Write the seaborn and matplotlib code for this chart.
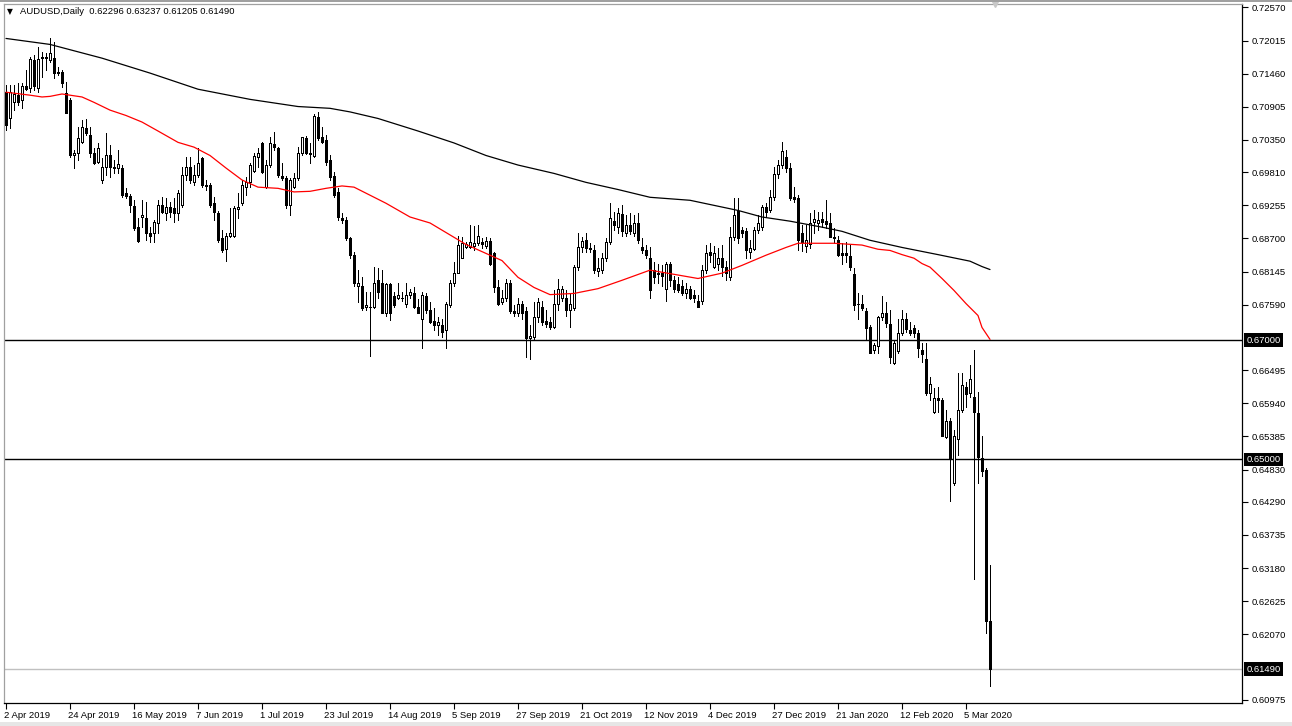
import matplotlib
matplotlib.use("Agg")
import matplotlib.pyplot as plt
import matplotlib.transforms as mtransforms
import seaborn as sns
import pandas as pd
import numpy as np

# AUDUSD daily bars, 2 Apr 2019 .. 13 Mar 2020 (one bar per trading day)
opens = [
    0.7115, 0.7071, 0.7098, 0.7110, 0.7102, 0.7125, 0.7122, 0.7169, 0.7122, 0.7174,
    0.7172, 0.7169, 0.7172, 0.7148, 0.7148, 0.7113, 0.7102, 0.7009, 0.7013, 0.7031,
    0.7055, 0.7043, 0.7013, 0.6998, 0.6968, 0.6989, 0.7009, 0.6989, 0.6988, 0.6988,
    0.6946, 0.6941, 0.6924, 0.6889, 0.6906, 0.6904, 0.6880, 0.6879, 0.6896, 0.6926,
    0.6912, 0.6922, 0.6921, 0.6912, 0.6926, 0.6976, 0.6989, 0.6964, 0.6976, 0.7004,
    0.6959, 0.6959, 0.6929, 0.6912, 0.6870, 0.6852, 0.6874, 0.6875, 0.6919, 0.6929,
    0.6956, 0.6964, 0.6983, 0.7006, 0.7030, 0.6956, 0.6993, 0.7028, 0.7021, 0.6974,
    0.6971, 0.6926, 0.6956, 0.6971, 0.7013, 0.7038, 0.7011, 0.7008, 0.7073, 0.7040,
    0.7035, 0.7001, 0.6974, 0.6948, 0.6904, 0.6901, 0.6870, 0.6842, 0.6790, 0.6791,
    0.6755, 0.6755, 0.6755, 0.6800, 0.6795, 0.6745, 0.6793, 0.6773, 0.6771, 0.6771,
    0.6761, 0.6775, 0.6778, 0.6756, 0.6736, 0.6773, 0.6750, 0.6731, 0.6725, 0.6725,
    0.6716, 0.6758, 0.6795, 0.6813, 0.6838, 0.6855, 0.6855, 0.6857, 0.6862, 0.6864,
    0.6857, 0.6865, 0.6845, 0.6788, 0.6764, 0.6771, 0.6796, 0.6748, 0.6746, 0.6760,
    0.6748, 0.6703, 0.6705, 0.6738, 0.6755, 0.6731, 0.6730, 0.6721, 0.6760, 0.6771,
    0.6771, 0.6750, 0.6753, 0.6822, 0.6855, 0.6867, 0.6854, 0.6850, 0.6815, 0.6817,
    0.6838, 0.6864, 0.6899, 0.6889, 0.6911, 0.6880, 0.6892, 0.6880, 0.6896, 0.6855,
    0.6850, 0.6838, 0.6817, 0.6812, 0.6813, 0.6785, 0.6827, 0.6800, 0.6793, 0.6791,
    0.6778, 0.6785, 0.6775, 0.6766, 0.6766, 0.6818, 0.6847, 0.6822, 0.6828, 0.6837,
    0.6822, 0.6805, 0.6872, 0.6916, 0.6884, 0.6882, 0.6847, 0.6852, 0.6884, 0.6889,
    0.6922, 0.6917, 0.6939, 0.6978, 0.6993, 0.7006, 0.6988, 0.6939, 0.6937, 0.6880,
    0.6857, 0.6860, 0.6897, 0.6896, 0.6902, 0.6899, 0.6896, 0.6872, 0.6867, 0.6845,
    0.6845, 0.6840, 0.6810, 0.6761, 0.6761, 0.6748, 0.6721, 0.6683, 0.6690, 0.6738,
    0.6745, 0.6726, 0.6661, 0.6681, 0.6711, 0.6736, 0.6716, 0.6720, 0.6711, 0.6683,
    0.6668, 0.6611, 0.6579, 0.6603, 0.6599, 0.6537, 0.6565, 0.6460, 0.6534, 0.6582,
    0.6622, 0.6611, 0.6604, 0.6577, 0.6502, 0.6482, 0.62296,
]
highs = [
    0.7127, 0.7127, 0.7127, 0.7130, 0.7130, 0.7152, 0.7174, 0.7177, 0.7190, 0.7182,
    0.7180, 0.7205, 0.7199, 0.7157, 0.7152, 0.7132, 0.7105, 0.7018, 0.7056, 0.7068,
    0.7070, 0.7056, 0.7021, 0.7030, 0.7004, 0.7046, 0.7026, 0.7001, 0.7018, 0.6993,
    0.6954, 0.6944, 0.6934, 0.6904, 0.6934, 0.6931, 0.6889, 0.6901, 0.6934, 0.6939,
    0.6937, 0.6931, 0.6937, 0.6951, 0.6989, 0.7006, 0.7006, 0.6993, 0.7021, 0.7006,
    0.6968, 0.6963, 0.6939, 0.6916, 0.6884, 0.6879, 0.6921, 0.6924, 0.6946, 0.6968,
    0.6973, 0.6996, 0.7013, 0.7021, 0.7031, 0.7001, 0.7040, 0.7048, 0.7024, 0.6996,
    0.6974, 0.6971, 0.6979, 0.7023, 0.7040, 0.7041, 0.7030, 0.7078, 0.7082, 0.7056,
    0.7043, 0.7009, 0.6981, 0.6954, 0.6912, 0.6906, 0.6872, 0.6847, 0.6817, 0.6805,
    0.6780, 0.6780, 0.6822, 0.6820, 0.6817, 0.6796, 0.6795, 0.6780, 0.6795, 0.6780,
    0.6796, 0.6786, 0.6788, 0.6768, 0.6780, 0.6778, 0.6763, 0.6753, 0.6738, 0.6736,
    0.6763, 0.6800, 0.6830, 0.6875, 0.6872, 0.6864, 0.6892, 0.6891, 0.6892, 0.6870,
    0.6872, 0.6870, 0.6847, 0.6800, 0.6783, 0.6803, 0.6800, 0.6758, 0.6770, 0.6766,
    0.6756, 0.6725, 0.6764, 0.6770, 0.6766, 0.6750, 0.6738, 0.6783, 0.6803, 0.6791,
    0.6783, 0.6778, 0.6825, 0.6880, 0.6872, 0.6879, 0.6862, 0.6859, 0.6837, 0.6845,
    0.6870, 0.6929, 0.6914, 0.6921, 0.6926, 0.6909, 0.6912, 0.6909, 0.6912, 0.6870,
    0.6859, 0.6855, 0.6830, 0.6828, 0.6825, 0.6830, 0.6830, 0.6808, 0.6805, 0.6800,
    0.6795, 0.6791, 0.6783, 0.6775, 0.6825, 0.6859, 0.6862, 0.6857, 0.6854, 0.6859,
    0.6833, 0.6889, 0.6937, 0.6937, 0.6889, 0.6887, 0.6867, 0.6889, 0.6909, 0.6926,
    0.6929, 0.6951, 0.6989, 0.7001, 0.7031, 0.7018, 0.6996, 0.6956, 0.6943, 0.6892,
    0.6892, 0.6912, 0.6917, 0.6914, 0.6914, 0.6934, 0.6912, 0.6887, 0.6875, 0.6862,
    0.6864, 0.6859, 0.6820, 0.6778, 0.6775, 0.6753, 0.6725, 0.6695, 0.6741, 0.6773,
    0.6763, 0.6750, 0.6700, 0.6736, 0.6750, 0.6745, 0.6730, 0.6725, 0.6716, 0.6695,
    0.6695, 0.6638, 0.6619, 0.6622, 0.6603, 0.6582, 0.6569, 0.6549, 0.6644, 0.6644,
    0.6629, 0.6658, 0.6684, 0.6613, 0.6539, 0.6485, 0.63237,
]
lows = [
    0.7051, 0.7055, 0.7085, 0.7093, 0.7088, 0.7118, 0.7115, 0.7118, 0.7115, 0.7140,
    0.7152, 0.7165, 0.7138, 0.7143, 0.7124, 0.7080, 0.7006, 0.6988, 0.7001, 0.7030,
    0.7043, 0.7006, 0.6994, 0.6996, 0.6963, 0.6976, 0.6973, 0.6979, 0.6979, 0.6939,
    0.6937, 0.6914, 0.6884, 0.6864, 0.6889, 0.6867, 0.6864, 0.6864, 0.6879, 0.6912,
    0.6901, 0.6906, 0.6897, 0.6901, 0.6922, 0.6968, 0.6963, 0.6959, 0.6973, 0.6956,
    0.6951, 0.6922, 0.6901, 0.6864, 0.6847, 0.6832, 0.6872, 0.6872, 0.6904, 0.6926,
    0.6943, 0.6956, 0.6981, 0.6989, 0.6979, 0.6954, 0.6989, 0.7018, 0.6973, 0.6968,
    0.6921, 0.6909, 0.6954, 0.6968, 0.7009, 0.7011, 0.6996, 0.7006, 0.7035, 0.7030,
    0.6993, 0.6968, 0.6939, 0.6901, 0.6896, 0.6867, 0.6838, 0.6791, 0.6763, 0.6750,
    0.6750, 0.6674, 0.6753, 0.6771, 0.6745, 0.6741, 0.6733, 0.6755, 0.6768, 0.6766,
    0.6755, 0.6771, 0.6753, 0.6745, 0.6686, 0.6746, 0.6728, 0.6716, 0.6708, 0.6705,
    0.6686, 0.6755, 0.6791, 0.6812, 0.6837, 0.6854, 0.6854, 0.6850, 0.6859, 0.6854,
    0.6854, 0.6825, 0.6780, 0.6758, 0.6761, 0.6766, 0.6745, 0.6740, 0.6741, 0.6736,
    0.6671, 0.6669, 0.6701, 0.6730, 0.6725, 0.6721, 0.6718, 0.6720, 0.6750, 0.6766,
    0.6741, 0.6721, 0.6750, 0.6817, 0.6847, 0.6847, 0.6847, 0.6813, 0.6808, 0.6813,
    0.6833, 0.6860, 0.6884, 0.6879, 0.6875, 0.6875, 0.6877, 0.6875, 0.6862, 0.6845,
    0.6837, 0.6770, 0.6795, 0.6795, 0.6791, 0.6766, 0.6791, 0.6780, 0.6780, 0.6775,
    0.6771, 0.6768, 0.6763, 0.6755, 0.6761, 0.6813, 0.6830, 0.6820, 0.6817, 0.6808,
    0.6800, 0.6800, 0.6867, 0.6862, 0.6872, 0.6838, 0.6837, 0.6850, 0.6880, 0.6884,
    0.6906, 0.6914, 0.6934, 0.6971, 0.6988, 0.6981, 0.6934, 0.6931, 0.6850, 0.6849,
    0.6847, 0.6854, 0.6880, 0.6884, 0.6889, 0.6887, 0.6872, 0.6862, 0.6840, 0.6828,
    0.6830, 0.6817, 0.6750, 0.6736, 0.6750, 0.6700, 0.6678, 0.6678, 0.6678, 0.6733,
    0.6721, 0.6661, 0.6659, 0.6679, 0.6708, 0.6713, 0.6708, 0.6705, 0.6671, 0.6663,
    0.6608, 0.6599, 0.6577, 0.6579, 0.6539, 0.6536, 0.6431, 0.6458, 0.6507, 0.6579,
    0.6587, 0.6604, 0.6299, 0.6460, 0.6473, 0.6209, 0.61205,
]
closes = [
    0.7060, 0.7115, 0.7112, 0.7098, 0.7125, 0.7120, 0.7170, 0.7125, 0.7170, 0.7172,
    0.7174, 0.7180, 0.7147, 0.7147, 0.7130, 0.7080, 0.7009, 0.7014, 0.7038, 0.7056,
    0.7046, 0.7013, 0.6996, 0.7021, 0.6989, 0.7009, 0.6989, 0.6988, 0.6994, 0.6943,
    0.6941, 0.6926, 0.6887, 0.6865, 0.6909, 0.6880, 0.6874, 0.6897, 0.6926, 0.6914,
    0.6922, 0.6914, 0.6912, 0.6946, 0.6976, 0.6989, 0.6968, 0.6976, 0.6996, 0.6959,
    0.6958, 0.6926, 0.6914, 0.6867, 0.6850, 0.6874, 0.6879, 0.6921, 0.6922, 0.6959,
    0.6964, 0.6993, 0.7008, 0.7014, 0.6981, 0.6993, 0.7030, 0.7023, 0.6976, 0.6971,
    0.6926, 0.6968, 0.6971, 0.7014, 0.7040, 0.7014, 0.7014, 0.7075, 0.7038, 0.7031,
    0.6998, 0.6973, 0.6943, 0.6906, 0.6901, 0.6870, 0.6842, 0.6795, 0.6795, 0.6753,
    0.6758, 0.6756, 0.6795, 0.6780, 0.6746, 0.6793, 0.6745, 0.6758, 0.6775, 0.6770,
    0.6776, 0.6780, 0.6755, 0.6746, 0.6775, 0.6750, 0.6730, 0.6725, 0.6730, 0.6713,
    0.6760, 0.6796, 0.6813, 0.6859, 0.6862, 0.6860, 0.6864, 0.6862, 0.6875, 0.6860,
    0.6865, 0.6828, 0.6788, 0.6760, 0.6771, 0.6796, 0.6748, 0.6746, 0.6760, 0.6745,
    0.6703, 0.6706, 0.6738, 0.6763, 0.6730, 0.6726, 0.6721, 0.6760, 0.6786, 0.6786,
    0.6750, 0.6760, 0.6822, 0.6855, 0.6865, 0.6854, 0.6852, 0.6817, 0.6820, 0.6838,
    0.6864, 0.6904, 0.6892, 0.6912, 0.6882, 0.6892, 0.6882, 0.6896, 0.6867, 0.6850,
    0.6843, 0.6783, 0.6805, 0.6810, 0.6808, 0.6827, 0.6800, 0.6785, 0.6783, 0.6778,
    0.6785, 0.6771, 0.6770, 0.6756, 0.6818, 0.6845, 0.6843, 0.6845, 0.6837, 0.6822,
    0.6813, 0.6872, 0.6909, 0.6870, 0.6880, 0.6850, 0.6854, 0.6884, 0.6896, 0.6922,
    0.6914, 0.6939, 0.6978, 0.6993, 0.7016, 0.6988, 0.6937, 0.6936, 0.6867, 0.6864,
    0.6867, 0.6896, 0.6902, 0.6901, 0.6897, 0.6894, 0.6872, 0.6870, 0.6842, 0.6843,
    0.6843, 0.6822, 0.6758, 0.6760, 0.6753, 0.6720, 0.6679, 0.6691, 0.6738, 0.6746,
    0.6728, 0.6671, 0.6695, 0.6711, 0.6736, 0.6718, 0.6711, 0.6711, 0.6686, 0.6676,
    0.6611, 0.6626, 0.6603, 0.6599, 0.6540, 0.6565, 0.6500, 0.6539, 0.6582, 0.6624,
    0.6609, 0.6634, 0.6579, 0.6504, 0.6480, 0.6230, 0.61490,
]

# moving averages (bar number, price)
ma50_bars = [0, 6, 9, 11, 14, 19, 22, 26, 30, 34, 38, 43, 47, 51, 55, 59, 63, 68, 72, 76,
             80, 84, 87, 95, 101, 106, 112, 115, 120, 124, 128, 132, 136, 142, 148, 154,
             161, 167, 173, 179, 184, 190, 195, 198, 207, 214, 218, 221, 224, 227, 229,
             231, 234, 237, 240, 243, 244, 246]
ma50_vals = [0.7115, 0.7110, 0.7107, 0.7108, 0.7112, 0.7107, 0.7098, 0.7085, 0.7076, 0.7065,
             0.7050, 0.7031, 0.7023, 0.7009, 0.6988, 0.6968, 0.6956, 0.6954, 0.6948, 0.6949,
             0.6954, 0.6958, 0.6956, 0.6929, 0.6906, 0.6896, 0.6872, 0.6860, 0.6845, 0.6833,
             0.6805, 0.6788, 0.6776, 0.6778, 0.6786, 0.6800, 0.6817, 0.6810, 0.6803, 0.6812,
             0.6825, 0.6842, 0.6855, 0.6862, 0.6862, 0.6859, 0.6852, 0.6850, 0.6843, 0.6837,
             0.6828, 0.6822, 0.6803, 0.6783, 0.6761, 0.6741, 0.6721, 0.6701]
ma200_bars = [0, 11, 24, 36, 48, 61, 73, 81, 86, 93, 103, 112, 120, 128, 137, 145, 153,
              161, 171, 183, 189, 196, 204, 209, 216, 224, 233, 241, 244, 246]
ma200_vals = [0.7205, 0.7195, 0.7172, 0.7147, 0.7120, 0.7103, 0.7091, 0.7088, 0.7082, 0.7071,
              0.7050, 0.7030, 0.7009, 0.6993, 0.6979, 0.6964, 0.6952, 0.6939, 0.6934, 0.6917,
              0.6906, 0.6899, 0.6889, 0.6882, 0.6867, 0.6855, 0.6843, 0.6832, 0.6823, 0.6818]

date_labels = ["2 Apr 2019", "24 Apr 2019", "16 May 2019", "7 Jun 2019", "1 Jul 2019",
               "23 Jul 2019", "14 Aug 2019", "5 Sep 2019", "27 Sep 2019", "21 Oct 2019",
               "12 Nov 2019", "4 Dec 2019", "27 Dec 2019", "21 Jan 2020", "12 Feb 2020",
               "5 Mar 2020"]
bars_per_label = 16

price_ticks = [0.72570, 0.72015, 0.71460, 0.70905, 0.70350, 0.69810, 0.69255, 0.68700,
               0.68145, 0.67590, 0.66495, 0.65940, 0.65385, 0.64830, 0.64290, 0.63735,
               0.63180, 0.62625, 0.62070, 0.60975]
levels = [0.67000, 0.65000]
bid = 0.61490
title = "AUDUSD,Daily  0.62296 0.63237 0.61205 0.61490"

assert len(opens) == len(highs) == len(lows) == len(closes)

df = pd.DataFrame({"open": opens, "high": highs, "low": lows, "close": closes})
df["bar"] = np.arange(len(df))
df["up"] = df["close"] >= df["open"]
df["body_lo"] = df[["open", "close"]].min(axis=1)
df["body_hi"] = df[["open", "close"]].max(axis=1)

sns.set_style("white")
plt.rcParams["font.family"] = ["Liberation Sans", "DejaVu Sans"]

W, H = 1292, 726
fig = plt.figure(figsize=(W / 100, H / 100), dpi=100)
ax = fig.add_axes([4 / W, 1 - 703 / H, 1238 / W, 699 / H])

# candles: 1px wicks, bodies with a white fill for up days
ax.vlines(df["bar"], df["low"], df["high"], color="black", lw=0.72,
          antialiased=False, zorder=2)
ax.bar(df["bar"], (df["body_hi"] - df["body_lo"]).clip(lower=0.00003), bottom=df["body_lo"],
       width=0.62, color=np.where(df["up"], "white", "black"), edgecolor="black",
       linewidth=0.6, antialiased=False, zorder=3)

# moving averages
sns.lineplot(x=ma200_bars, y=ma200_vals, color="black", lw=0.9, ax=ax, zorder=4)
sns.lineplot(x=ma50_bars, y=ma50_vals, color="red", lw=0.9, ax=ax, zorder=4)

# horizontal levels and bid line
for lv in levels:
    ax.axhline(lv, color="black", lw=1.0, zorder=1)
ax.axhline(bid, color="#c0c0c0", lw=1.0, zorder=1)

ax.set_xlim(-0.5, 309)
ax.set_ylim(0.60921, 0.72627)

ax.yaxis.tick_right()
ax.set_yticks(price_ticks)
ax.set_yticklabels([f"{t:.5f}" for t in price_ticks])
ax.tick_params(axis="y", direction="out", length=4, width=0.8, pad=3,
               labelsize=6.8, colors="black", right=True)

xt = list(range(0, len(date_labels) * bars_per_label, bars_per_label))
ax.set_xticks(xt)
ax.set_xticklabels(date_labels, ha="left")
ax.tick_params(axis="x", direction="out", length=4, width=0.8, pad=2,
               labelsize=6.8, colors="black", bottom=True)
shift = mtransforms.ScaledTranslation(-2 / 100, 0, fig.dpi_scale_trans)
for lab in ax.get_xticklabels():
    lab.set_transform(lab.get_transform() + shift)

ax.set_xlabel("")
ax.set_ylabel("")
for s in ax.spines.values():
    s.set_color("black")
    s.set_linewidth(0.9)
ax.spines["top"].set_color("#a0a0a0")
ax.spines["left"].set_color("#a0a0a0")

# highlighted price labels on the right scale
trans = mtransforms.blended_transform_factory(ax.transAxes, ax.transData)
for lv in levels + [bid]:
    ax.text(1.0035, lv, f"{lv:.5f}", transform=trans, ha="left", va="center",
            fontsize=6.8, color="white", zorder=10, clip_on=False,
            bbox=dict(boxstyle="square,pad=0.22", fc="black", ec="none"))

# chart shift marker
top_trans = mtransforms.blended_transform_factory(ax.transData, ax.transAxes)
ax.plot([247.2], [1.0], marker="v", ms=5, color="#c8c8c8", transform=top_trans,
        clip_on=False, zorder=10)

# header
fig.text(7 / W, 1 - 12 / H, "\u25bc", fontsize=5.5, family=["DejaVu Sans"],
         va="center", ha="left", color="black")
fig.text(20 / W, 1 - 12 / H, title, fontsize=6.8, va="center", ha="left", color="black")

# window frame
fig.patches.append(plt.Rectangle((0, 0), 1, 4 / H, transform=fig.transFigure,
                                 fc="#e6e6e6", ec="none"))
fig.patches.append(plt.Rectangle((0, 1 - 2 / H), 1, 2 / H, transform=fig.transFigure,
                                 fc="#a0a0a0", ec="none"))

fig.savefig("out.png", dpi=100)
